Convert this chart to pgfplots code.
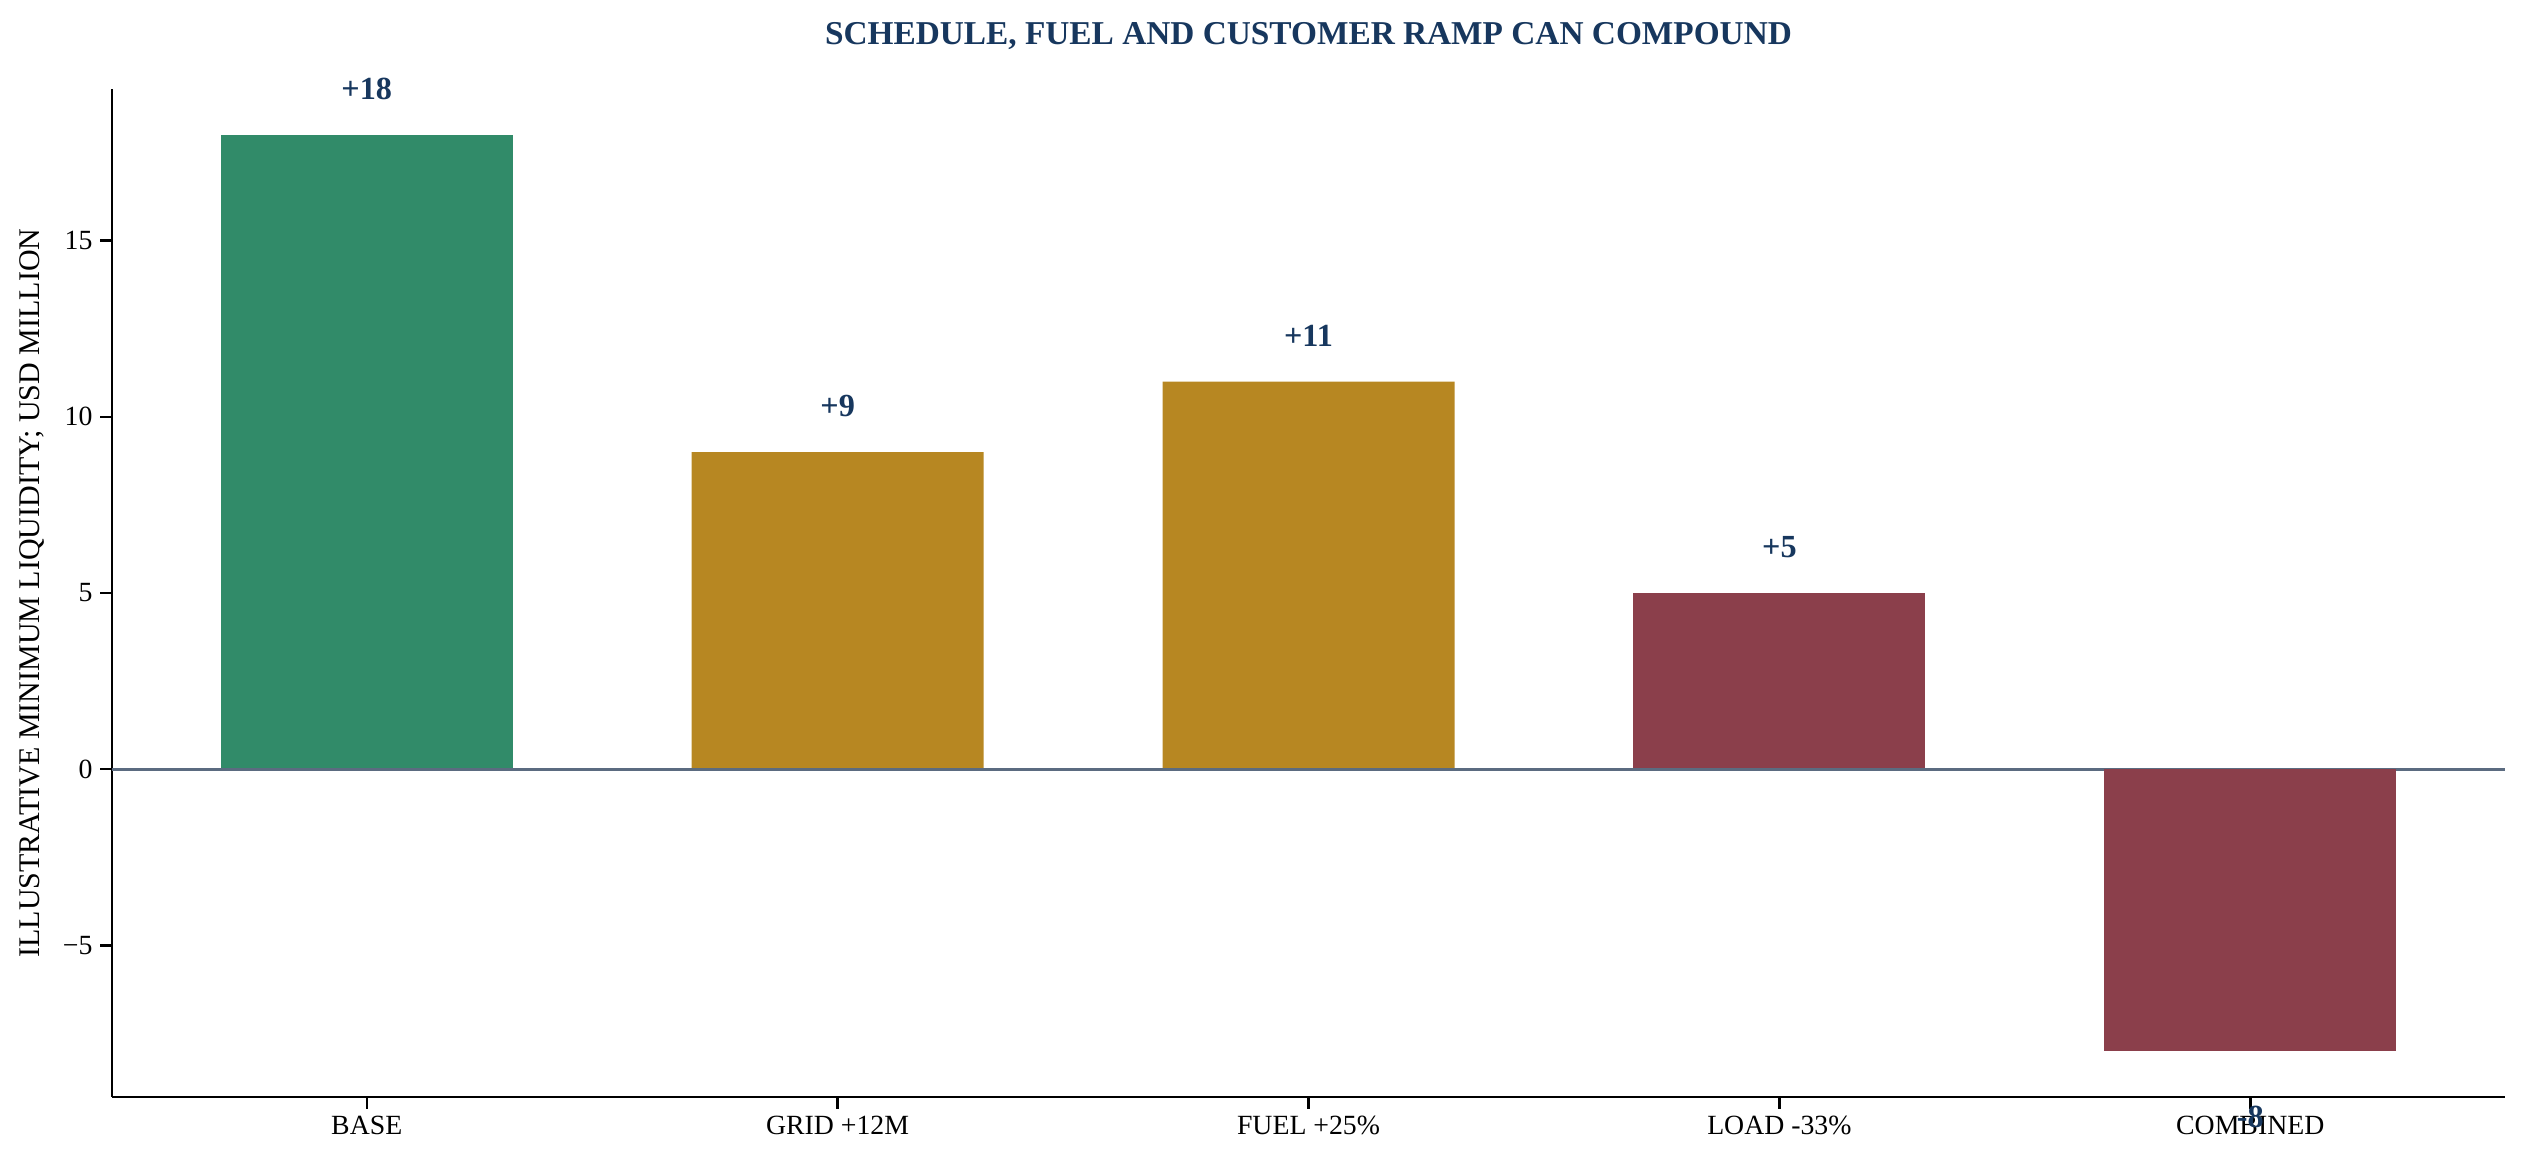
\documentclass[border=0pt]{standalone}
\usepackage{pgfplots}
\pgfplotsset{compat=1.18}
\usepackage{fontspec}
\setmainfont{Liberation Serif}
\definecolor{cgreen}{HTML}{318B69}
\definecolor{cgold}{HTML}{B78722}
\definecolor{cred}{HTML}{8B3F4B}
\definecolor{navy}{HTML}{17375E}
\definecolor{zline}{HTML}{5B6B80}
\begin{document}
\begin{tikzpicture}
\begin{axis}[
  set layers=standard,
  scale only axis,
  width=1076.85pt, height=453.6pt,
  xmin=-0.541, xmax=4.541, ymin=-9.3, ymax=19.3,
  axis x line*=bottom, axis y line*=left,
  axis line style={black, line width=1.1pt},
  ybar, bar width=131.4pt, bar shift=0pt,
  xtick={0,1,2,3,4},
  xticklabels={BASE, GRID +12M, FUEL +25\%, LOAD -33\%, COMBINED},
  ytick={-5,0,5,10,15},
  yticklabels={−5,0,5,10,15},
  tick align=outside, major tick length=5.25pt,
  tick style={black, line width=1.1pt},
  ticklabel style={font=\fontsize{12.5}{15}\selectfont, text=black},
  title={SCHEDULE, FUEL AND CUSTOMER RAMP CAN COMPOUND},
  every axis title/.style={font=\bfseries\fontsize{15}{18}\selectfont, text=navy,
    at={(axis description cs:0.5,1.053)}, anchor=center},
  ylabel={ILLUSTRATIVE MINIMUM LIQUIDITY; USD MILLION},
  ylabel style={font=\fontsize{13.5}{16}\selectfont, at={(axis description cs:-0.0334,0.5)}, anchor=center},
  clip=false,
  nodes near coords,
  point meta=explicit symbolic,
  nodes near coords style={font=\bfseries\fontsize{14.5}{17}\selectfont, text=navy, anchor=center, yshift=20.7pt},
]
\addplot[fill=cgreen, draw=none] coordinates {(0,18) [+18]};
\addplot[fill=cgold, draw=none] coordinates {(1,9) [+9] (2,11) [+11]};
\addplot[fill=cred, draw=none] coordinates {(3,5) [+5]};
\draw[zline, line width=1.2pt] (axis cs:-0.541,0) -- (axis cs:4.541,0);
\addplot[fill=cred, draw=none, nodes near coords style={yshift=-50.4pt}] coordinates {(4,-8) [-8]};
\coordinate (SW) at (rel axis cs:0,0);
\coordinate (NE) at (rel axis cs:1,1);
\end{axis}
\pgfresetboundingbox
\useasboundingbox ([xshift=-50.4pt,yshift=-31.05pt]SW) rectangle ([xshift=9.45pt,yshift=40.05pt]NE);
\end{tikzpicture}
\end{document}
